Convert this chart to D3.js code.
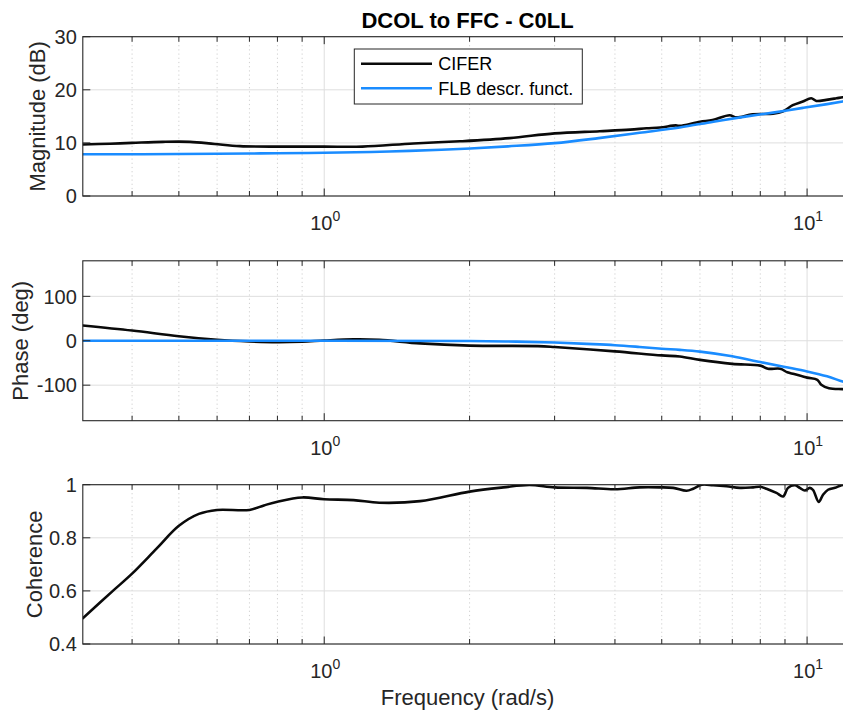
<!DOCTYPE html>
<html><head><meta charset="utf-8">
<script src="https://cdn.jsdelivr.net/npm/d3@7"></script>
<style>
html,body{margin:0;padding:0;background:#fff;}
svg{display:block;font-family:"Liberation Sans",Arial,Helvetica,sans-serif;}
</style></head>
<body>
<svg id="chart" width="843" height="710"></svg>
<script>
// ---------------- data ----------------
const titleText = "DCOL to FFC - C0LL";
const seriesNames = ["CIFER", "FLB descr. funct."];
const xLabel = "Frequency (rad/s)";
const yLabels = ["Magnitude (dB)", "Phase (deg)", "Coherence"];
const xMajorTicks = [1, 10];
const xTickExp = ["0", "1"];
const xMinorTicks = [0.4,0.5,0.6,0.7,0.8,0.9,2,3,4,5,6,7,8,9];
const magTicks = [0, 10, 20, 30];
const phaseTicks = [-100, 0, 100];
const cohTicks = [0.4, 0.6, 0.8, 1];

// Magnitude – CIFER
const magCiferFreq = [0.3162,0.36,0.4,0.463,0.527,0.593,0.669,0.81,1.0,1.2,1.53,1.91,2.42,3.0,3.72,4.3,4.65,4.96,5.35,5.45,6.0,6.37,6.91,7.14,7.71,8.5,8.9,9.34,9.8,10.2,10.45,10.96,11.5,11.85,12.4];
const magCifer     = [9.7,9.85,10.0,10.2,10.2,9.8,9.4,9.3,9.3,9.3,9.9,10.3,10.9,11.8,12.2,12.5,12.75,12.9,13.3,13.2,14.0,14.3,15.2,14.8,15.4,15.5,15.9,17.1,17.8,18.4,17.9,18.1,18.4,18.6,18.8];
// Magnitude – FLB describing function
const magFlbFreq = [0.3162,0.4,0.5,0.6,0.7,0.8,1.0,1.25,1.5,1.9,2.4,3.0,3.7,4.5,5.45,6.4,7.5,8.5,9.8,11.0,11.85,12.4];
const magFlb     = [7.85,7.87,7.9,7.95,8.0,8.05,8.15,8.3,8.5,8.85,9.35,9.95,10.9,11.9,12.9,14.0,15.0,15.7,16.6,17.3,17.8,18.1];

// Phase – CIFER
const phCiferFreq = [0.3162,0.4,0.5,0.6,0.7,0.8,0.9,1.0,1.15,1.3,1.58,2.0,2.77,3.0,4.0,5.0,5.45,6.0,7.0,8.0,8.3,8.8,9.1,9.4,10.0,10.5,10.7,11.1,11.85,12.4];
const phCifer     = [34.5,23,10,2.3,-1.5,-3,-2,0.5,3,2,-6,-11,-12,-14,-24,-33,-35.4,-43,-52,-56,-63,-63,-71,-75,-83,-88,-99,-107,-109,-110];
// Phase – FLB describing function
const phFlbFreq = [0.3162,1.0,2.0,2.5,3.0,3.5,4.0,4.5,5.0,5.45,6.0,7.0,8.0,9.0,10.0,11.0,11.85,12.4];
const phFlb     = [0,0,-0.5,-2,-4,-7,-10,-14,-18,-20.5,-24.5,-35,-48,-59,-69,-80,-92,-98];

// Coherence – CIFER
const cohFreq = [0.3162,0.365,0.4,0.45,0.5,0.55,0.6,0.7,0.75,0.8,0.9,1.0,1.15,1.3,1.58,2.0,2.35,2.66,3.0,3.5,4.0,4.5,4.95,5.28,5.63,5.81,6.05,6.39,6.81,7.26,7.73,7.98,8.24,8.64,8.92,9.13,9.43,9.66,9.89,10.13,10.29,10.57,10.79,11.05,11.5,11.78,12.4];
const coh     = [0.497,0.60,0.665,0.76,0.845,0.89,0.905,0.905,0.922,0.936,0.952,0.945,0.942,0.932,0.938,0.974,0.99,0.999,0.99,0.988,0.983,0.99,0.99,0.988,0.977,0.985,1.0,0.998,0.994,0.988,0.99,0.992,0.985,0.969,0.956,0.988,0.998,0.988,0.978,0.988,0.98,0.935,0.962,0.981,0.99,0.998,1.0];

// ---------------- drawing ----------------
const svg = d3.select("#chart");
svg.append("rect").attr("width",843).attr("height",710).attr("fill","#fff");

const AX = "#262626", BLUE = "#1a8cff", BLACK = "#0a0a0a";
const x = d3.scaleLog().domain([Math.pow(10,-0.5), 12.4]).range([82.8, 852.2]);

const panels = [
  {top:36.7, bottom:196, domain:[0,30], ticks:magTicks, fmt:d=>String(d), label:yLabels[0], labelX:45,
   series:[{f:magCiferFreq,v:magCifer,c:BLACK},{f:magFlbFreq,v:magFlb,c:BLUE}]},
  {top:260.8, bottom:420.7, domain:[-180,180], ticks:phaseTicks, fmt:d=>String(d), label:yLabels[1], labelX:27.5,
   series:[{f:phCiferFreq,v:phCifer,c:BLACK},{f:phFlbFreq,v:phFlb,c:BLUE}]},
  {top:484.7, bottom:644, domain:[0.4,1], ticks:cohTicks, fmt:d=>String(d), label:yLabels[2], labelX:41.5,
   series:[{f:cohFreq,v:coh,c:BLACK}]}
];

const L = x.range()[0], R = x.range()[1];

panels.forEach((p,i)=>{
  const y = d3.scaleLinear().domain(p.domain).range([p.bottom,p.top]);
  const g = svg.append("g");
  const clipId = "clip"+i;
  svg.append("clipPath").attr("id",clipId).append("rect")
     .attr("x",L).attr("y",p.top).attr("width",R-L).attr("height",p.bottom-p.top);

  // minor grid (dotted)
  g.selectAll(".mg").data(xMinorTicks).join("line")
    .attr("x1",d=>x(d)).attr("x2",d=>x(d)).attr("y1",p.top).attr("y2",p.bottom)
    .attr("stroke","#cfcfcf").attr("stroke-width",1).attr("stroke-dasharray","1.2,3");
  // major grid
  g.selectAll(".Mg").data(xMajorTicks).join("line")
    .attr("x1",d=>x(d)).attr("x2",d=>x(d)).attr("y1",p.top).attr("y2",p.bottom)
    .attr("stroke","#dedede").attr("stroke-width",1);
  g.selectAll(".yg").data(p.ticks).join("line")
    .attr("x1",L).attr("x2",R).attr("y1",d=>y(d)).attr("y2",d=>y(d))
    .attr("stroke","#dedede").attr("stroke-width",1);

  // data
  const line = d3.line().x(d=>x(d[0])).y(d=>y(d[1])).curve(d3.curveCatmullRom.alpha(0.5));
  const dg = g.append("g").attr("clip-path",`url(#${clipId})`);
  p.series.forEach(s=>{
    dg.append("path").datum(s.f.map((f,k)=>[f,s.v[k]]))
      .attr("d",line).attr("fill","none").attr("stroke",s.c)
      .attr("stroke-width",2.6).attr("stroke-linejoin","round").attr("stroke-linecap","round");
  });

  // box
  g.append("rect").attr("x",L).attr("y",p.top).attr("width",R-L).attr("height",p.bottom-p.top)
    .attr("fill","none").attr("stroke",AX).attr("stroke-width",1.1);

  // x ticks (inside, bottom & top)
  const tk = [...xMajorTicks.map(d=>({d,len:7.5})), ...xMinorTicks.map(d=>({d,len:5}))];
  g.selectAll(".xtb").data(tk).join("line")
    .attr("x1",t=>x(t.d)).attr("x2",t=>x(t.d)).attr("y1",p.bottom).attr("y2",t=>p.bottom-t.len)
    .attr("stroke",AX).attr("stroke-width",1);
  g.selectAll(".xtt").data(tk).join("line")
    .attr("x1",t=>x(t.d)).attr("x2",t=>x(t.d)).attr("y1",p.top).attr("y2",t=>p.top+t.len)
    .attr("stroke",AX).attr("stroke-width",1);
  // y ticks
  g.selectAll(".yt").data(p.ticks).join("line")
    .attr("x1",L).attr("x2",L+7.5).attr("y1",d=>y(d)).attr("y2",d=>y(d))
    .attr("stroke",AX).attr("stroke-width",1);

  // y tick labels
  g.selectAll(".ytl").data(p.ticks).join("text")
    .attr("x",L-6).attr("y",d=>y(d)).attr("dy","0.36em")
    .attr("text-anchor","end").attr("font-size",20).attr("fill",AX)
    .text(p.fmt);

  // x tick labels 10^n
  xMajorTicks.forEach((d,k)=>{
    const t = g.append("text").attr("x",x(d)+1).attr("y",p.bottom+34)
      .attr("text-anchor","middle").attr("font-size",20).attr("fill",AX);
    t.append("tspan").text("10");
    t.append("tspan").attr("dy",-9).attr("font-size",14).text(xTickExp[k]);
  });

  // y label
  svg.append("text")
    .attr("transform",`translate(${p.labelX},${(p.top+p.bottom)/2}) rotate(-90)`)
    .attr("text-anchor","middle").attr("font-size",22).attr("fill",AX)
    .text(p.label);
});

// title
svg.append("text").attr("x",(L+R)/2).attr("y",27.5).attr("text-anchor","middle")
  .attr("font-size",22).attr("font-weight","bold").attr("fill","#000").text(titleText);

// x label
svg.append("text").attr("x",(L+R)/2).attr("y",705).attr("text-anchor","middle")
  .attr("font-size",22).attr("fill",AX).text(xLabel);

// legend
const lg = svg.append("g");
lg.append("rect").attr("x",354.3).attr("y",49).attr("width",228).attr("height",55)
  .attr("fill","#fff").attr("stroke",AX).attr("stroke-width",1);
const legendColors = [BLACK, BLUE];
const legendY = [63.7, 88.3];
seriesNames.forEach((n,k)=>{
  lg.append("line").attr("x1",361).attr("x2",432).attr("y1",legendY[k]).attr("y2",legendY[k])
    .attr("stroke",legendColors[k]).attr("stroke-width",2.6);
  lg.append("text").attr("x",438.3).attr("y",legendY[k]).attr("dy","0.36em")
    .attr("font-size",18).attr("fill","#000").text(n);
});
</script>
</body></html>
